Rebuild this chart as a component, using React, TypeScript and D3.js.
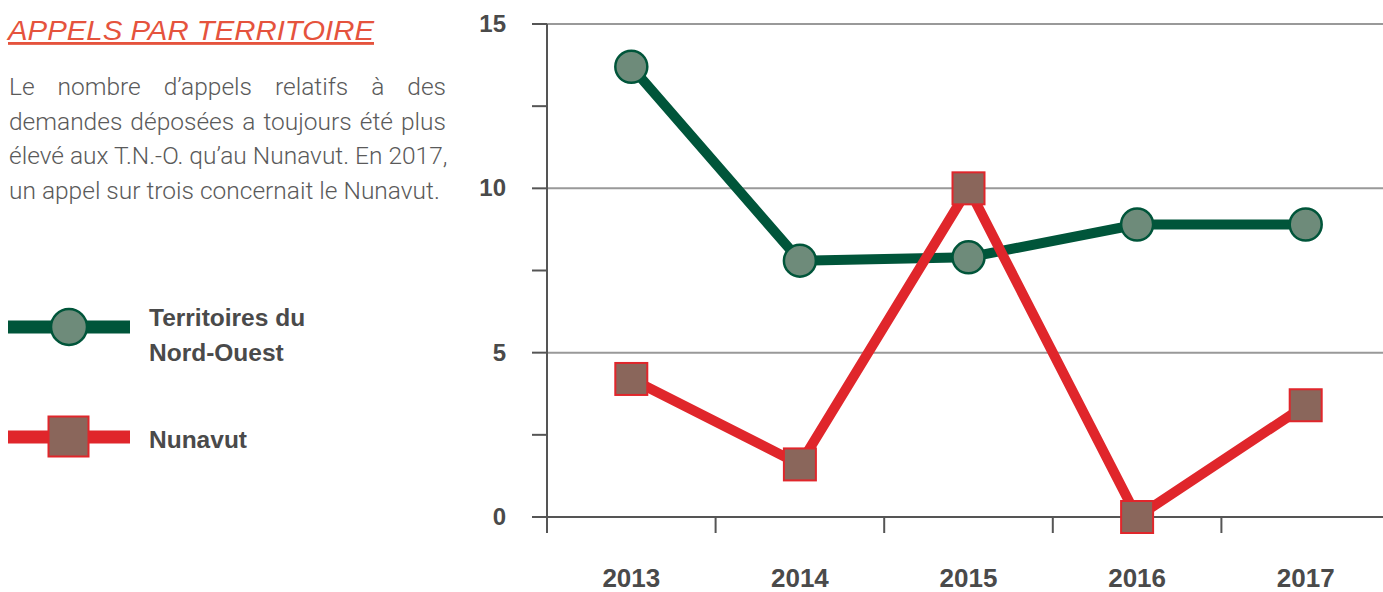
import React, { useEffect, useRef } from 'react';
import * as d3 from 'd3';

const years = ['2013', '2014', '2015', '2016', '2017'];
const tnoValues = [13.7, 7.8, 7.9, 8.9, 8.9];
const nunavutValues = [4.2, 1.6, 10, 0, 3.4];
const yTickLabels = [0, 5, 10, 15];
const introLines = [
  'Le nombre d\u2019appels relatifs à des',
  'demandes déposées a toujours été plus',
  'élevé aux T.N.-O. qu\u2019au Nunavut. En 2017,',
  'un appel sur trois concernait le Nunavut.',
];

const GREEN = '#00553a';
const GREEN_FILL = '#6e8b7a';
const RED = '#e0262b';
const BROWN = '#8a665b';
const AXIS = '#555555';
const TEXT = '#4a4a4a';

function App() {
  const width = 1383;
  const height = 592;
  const paraRef = useRef<SVGGElement>(null);

  const x = d3.scaleBand().domain(years).range([547, 1390]);
  const y = d3.scaleLinear().domain([0, 15]).range([517, 24]);
  const cx = (yr: string) => (x(yr) as number) + x.bandwidth() / 2;

  const line = d3
    .line<number>()
    .x((d, i) => cx(years[i]))
    .y(d => y(d));

  const minorTicks = d3.range(0, 15.01, 2.5);

  // justify the paragraph: size from the last line, then stretch word gaps
  useEffect(() => {
    const g = d3.select(paraRef.current);
    const texts = g.selectAll<SVGTextElement, unknown>('text');
    const nodes = texts.nodes();
    const last = nodes[nodes.length - 1];
    const base = last.getComputedTextLength();
    const fs = (20 * 431) / base;
    texts.attr('font-size', fs).attr('word-spacing', 0);
    nodes.forEach((n, i) => {
      if (i === nodes.length - 1) return;
      const len = n.getComputedTextLength();
      const gaps = introLines[i].split(' ').length - 1;
      d3.select(n).attr('word-spacing', Math.max(0, (437 - len) / gaps));
    });
  }, []);

  return (
    <svg
      width={width}
      height={height}
      style={{ position: 'absolute', left: 0, top: 0, fontFamily: 'Liberation Sans, Arial, sans-serif' }}
    >
      {/* ------- TEXT BLOCK ------- */}
      <text x={8} y={40} fill="#e5533d" fontSize={28.5} fontStyle="italic" textDecoration="underline"
        textLength={366} lengthAdjust="spacingAndGlyphs">
        APPELS PAR TERRITOIRE
      </text>
      <g ref={paraRef}>
        {introLines.map((l, i) => (
          <text key={i} x={9} y={95 + i * 34.5} fill="#5a5a5a" fontSize={20}
            fontFamily="Roboto, sans-serif" fontWeight={300}>
            {l}
          </text>
        ))}
      </g>

      {/* ------- LEGEND ------- */}
      <line x1={8} x2={130} y1={327} y2={327} stroke={GREEN} strokeWidth={13} />
      <circle cx={69} cy={327} r={18} fill={GREEN_FILL} stroke={GREEN} strokeWidth={2.5} />
      <text x={149} y={326} fill={TEXT} fontSize={24.5} fontWeight="bold">Territoires du</text>
      <text x={149} y={361} fill={TEXT} fontSize={24.5} fontWeight="bold">Nord-Ouest</text>

      <line x1={8} x2={130} y1={437} y2={437} stroke={RED} strokeWidth={13} />
      <rect x={48.5} y={416.5} width={40} height={40} fill={BROWN} stroke={RED} strokeWidth={2} />
      <text x={149} y={448} fill={TEXT} fontSize={24.5} fontWeight="bold">Nunavut</text>

      {/* ------- GRID + AXES ------- */}
      {yTickLabels.filter(v => v > 0).map(v => (
        <line key={'g' + v} x1={547} x2={width} y1={y(v)} y2={y(v)} stroke="#999" strokeWidth={2} />
      ))}
      {minorTicks.map(v => (
        <line key={'t' + v} x1={532} x2={547} y1={y(v)} y2={y(v)} stroke={AXIS} strokeWidth={2} />
      ))}
      <line x1={547} x2={547} y1={y(15)} y2={533} stroke={AXIS} strokeWidth={2} />
      <line x1={532} x2={width} y1={y(0)} y2={y(0)} stroke={AXIS} strokeWidth={2} />
      {years.map(yr => (
        <line key={'xt' + yr} x1={x(yr)} x2={x(yr)} y1={y(0)} y2={533} stroke={AXIS} strokeWidth={2} />
      ))}
      {yTickLabels.map(v => (
        <text key={'yl' + v} x={506} y={y(v) + 8} textAnchor="end" fill={TEXT} fontSize={24} fontWeight="bold">
          {v}
        </text>
      ))}
      {years.map(yr => (
        <text key={'xl' + yr} x={cx(yr)} y={587} textAnchor="middle" fill={TEXT} fontSize={26} fontWeight="bold">
          {yr}
        </text>
      ))}

      {/* ------- SERIES ------- */}
      <path d={line(tnoValues) || ''} fill="none" stroke={GREEN} strokeWidth={10} strokeLinejoin="round" />
      <path d={line(nunavutValues) || ''} fill="none" stroke={RED} strokeWidth={10} strokeLinejoin="miter" />
      {tnoValues.map((v, i) => (
        <circle key={'c' + i} cx={cx(years[i])} cy={y(v)} r={16} fill={GREEN_FILL} stroke={GREEN} strokeWidth={2.5} />
      ))}
      {nunavutValues.map((v, i) => (
        <rect key={'r' + i} x={cx(years[i]) - 16} y={y(v) - 16} width={32} height={32}
          fill={BROWN} stroke={RED} strokeWidth={2} />
      ))}
    </svg>
  );
}

export default App;
